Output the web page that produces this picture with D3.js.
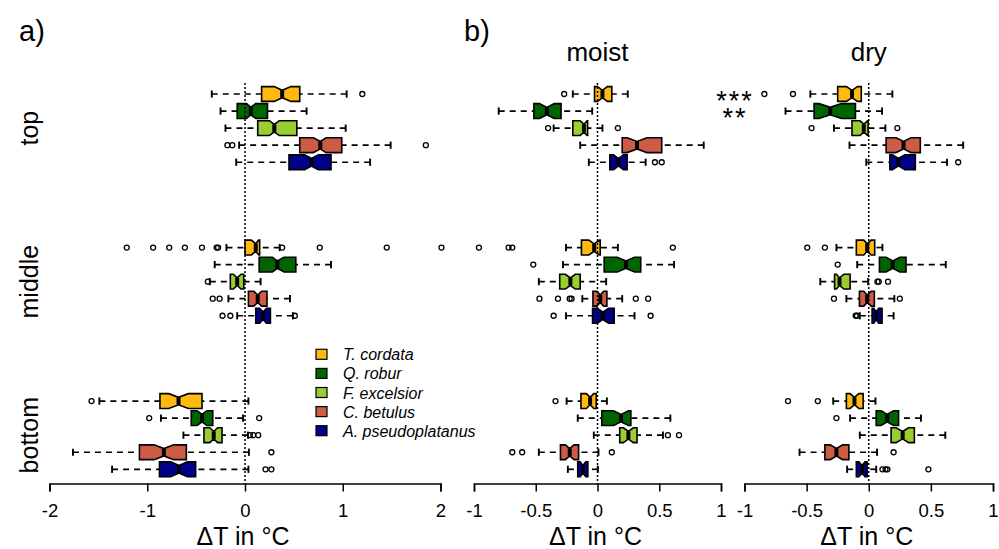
<!DOCTYPE html>
<html><head><meta charset="utf-8">
<script src="https://cdn.jsdelivr.net/npm/d3@7"></script>
<style>body{margin:0;background:#fff} svg text{font-family:"Liberation Sans",Arial,sans-serif;fill:#000}</style>
</head><body><svg id="c" width="999" height="549"></svg>
<script>
// ---- data ----
const species = ["T. cordata","Q. robur","F. excelsior","C. betulus","A. pseudoplatanus"];
const colors = ["#FFB90F","#006400","#9ACD32","#CD5B45","#00008B"];
const heights = ["top","middle","bottom"];
const positions = [1,2,3,4,5,10,11,12,13,14,19,20,21,22,23];
const ticksA = [-2,-1,0,1,2];
const ticksB = [-1,-0.5,0,0.5,1];
const stars = ["***","**"];

// stats per box: [whiskerLow, Q1, median, Q3, whiskerHigh]; order top(5), middle(5), bottom(5)
const statsA = [
  [-0.34,0.17,0.38,0.56,1.04],[-0.25,-0.08,0.06,0.23,0.63],[-0.20,0.13,0.30,0.53,1.03],[-0.06,0.56,0.77,0.99,1.49],[-0.09,0.45,0.68,0.88,1.28],
  [-0.19,0.0,0.11,0.15,0.355],[-0.31,0.145,0.33,0.52,0.88],[-0.36,-0.15,-0.08,-0.013,0.16],[-0.17,0.035,0.13,0.225,0.46],[-0.08,0.11,0.185,0.26,0.49],
  [-1.49,-0.87,-0.68,-0.44,0.035],[-0.86,-0.55,-0.44,-0.33,-0.02],[-0.63,-0.42,-0.32,-0.235,0.03],[-1.76,-1.08,-0.83,-0.60,0.04],[-1.36,-0.875,-0.675,-0.505,0.035]
];
const notchA = [
  [0.30,0.47],[0.015,0.11],[0.25,0.35],[0.70,0.83],[0.61,0.75],
  [0.065,0.14],[0.28,0.40],[-0.12,-0.04],[0.09,0.17],[0.15,0.22],
  [-0.78,-0.58],[-0.49,-0.39],[-0.36,-0.28],[-0.93,-0.73],[-0.76,-0.59]
];
const outA = [
  [1.20],[],[],[-0.18,-0.13,1.85],[],
  [-1.21,-0.94,-0.775,-0.615,-0.44,-0.29,-0.275,0.38,0.765,1.45,2.01],[],[-0.38],[-0.33,-0.26],[-0.23,-0.15,0.51],
  [-1.57],[-0.98,0.145],[0.05,0.085,0.135],[0.27],[0.21,0.27]
];

const statsMoist = [
  [-0.20,-0.024,0.04,0.116,0.245],[-0.80,-0.515,-0.41,-0.295,-0.043],[-0.355,-0.20,-0.11,-0.08,0.04],[-0.14,0.20,0.32,0.52,0.86],[-0.07,0.10,0.17,0.24,0.39],
  [-0.255,-0.13,-0.027,0.022,0.165],[-0.28,0.054,0.23,0.35,0.62],[-0.475,-0.306,-0.22,-0.14,0.07],[-0.123,-0.037,0.022,0.076,0.20],[-0.255,-0.04,0.043,0.135,0.30],
  [-0.25,-0.134,-0.06,-0.01,0.076],[-0.16,0.035,0.19,0.27,0.59],[-0.03,0.18,0.25,0.32,0.53],[-0.475,-0.30,-0.225,-0.153,0.008],[-0.24,-0.16,-0.118,-0.078,0.003]
];
const notchMoist = [
  [0.0,0.08],[-0.47,-0.35],[-0.14,-0.085],[0.24,0.40],[0.13,0.21],
  [-0.07,0.015],[0.16,0.30],[-0.26,-0.18],[-0.005,0.05],[0.0,0.09],
  [-0.09,-0.03],[0.13,0.25],[0.21,0.29],[-0.26,-0.19],[-0.14,-0.095]
];
const outMoist = [
  [-0.27],[],[-0.40,0.165],[],[0.465,0.52],
  [-0.96,-0.72,-0.69,0.61],[-0.52],[],[-0.47,-0.32,-0.225,-0.21,0.31,0.41],[-0.355,0.43],
  [-0.34],[],[0.57,0.66],[-0.69,-0.61,0.116],[]
];

const statsDry = [
  [-0.47,-0.25,-0.135,-0.06,0.19],[-0.67,-0.44,-0.31,-0.107,0.107],[-0.28,-0.135,-0.04,-0.005,0.134],[-0.155,0.14,0.28,0.415,0.76],[-0.02,0.17,0.24,0.375,0.63],
  [-0.26,-0.10,-0.013,0.048,0.11],[-0.093,0.086,0.193,0.30,0.62],[-0.39,-0.275,-0.235,-0.15,-0.005],[-0.18,-0.075,-0.013,0.045,0.206],[-0.072,0.027,0.06,0.107,0.20],
  [-0.286,-0.18,-0.115,-0.045,0.054],[-0.15,0.06,0.148,0.24,0.42],[-0.072,0.18,0.273,0.367,0.616],[-0.557,-0.353,-0.26,-0.16,0.067],[-0.174,-0.10,-0.053,-0.013,0.06]
];
const notchDry = [
  [-0.18,-0.09],[-0.40,-0.22],[-0.07,-0.01],[0.22,0.34],[0.19,0.29],
  [-0.04,0.02],[0.14,0.25],[-0.26,-0.20],[-0.04,0.02],[0.04,0.08],
  [-0.15,-0.08],[0.10,0.20],[0.22,0.32],[-0.31,-0.21],[-0.08,-0.03]
];
const outDry = [
  [-0.84,-0.61],[],[-0.46,0.23],[],[0.72],
  [-0.495,-0.353],[-0.25],[0.07,0.08,0.155],[-0.28,0.25],[-0.105,-0.095],
  [-0.65,-0.41],[-0.26],[],[0.20],[0.11,0.135,0.15,0.48]
];

// ---- drawing ----
const svg = d3.select("#c");
const y = d3.scaleLinear().domain([1,23]).range([94,469.3]);
const axisY = 483.5, plotTop = 83;
const halfH = 7.4, notchFrac = 0.5, stapleH = 3.6;

function panel(stats, notch, outs, domain, range, ticks, title) {
  const x = d3.scaleLinear().domain(domain).range(range);
  const g = svg.append("g");
  stats.forEach((s, i) => {
    const cy = y(positions[i]);
    const col = colors[i % 5];
    const bg = g.append("g");
    [[s[0], s[1]], [s[4], s[3]]].forEach(([a, b]) => {
      bg.append("line").attr("x1", x(a)).attr("x2", x(b)).attr("y1", cy).attr("y2", cy)
        .attr("stroke", "#000").attr("stroke-width", 1.7).attr("stroke-dasharray", "6,5");
      bg.append("line").attr("x1", x(a)).attr("x2", x(a)).attr("y1", cy - stapleH).attr("y2", cy + stapleH)
        .attr("stroke", "#000").attr("stroke-width", 1.9);
    });
    const [nlo, nhi] = notch[i];
    const pts = [
      [x(s[1]), cy - halfH], [x(nlo), cy - halfH], [x(s[2]), cy - halfH * notchFrac], [x(nhi), cy - halfH], [x(s[3]), cy - halfH],
      [x(s[3]), cy + halfH], [x(nhi), cy + halfH], [x(s[2]), cy + halfH * notchFrac], [x(nlo), cy + halfH], [x(s[1]), cy + halfH]
    ];
    bg.append("polygon").attr("points", pts.map(p => p.join(",")).join(" "))
      .attr("fill", col).attr("stroke", "#000").attr("stroke-width", 1.6).attr("stroke-linejoin", "miter");
    bg.append("line").attr("x1", x(s[2])).attr("x2", x(s[2]))
      .attr("y1", cy - halfH * notchFrac).attr("y2", cy + halfH * notchFrac)
      .attr("stroke", "#000").attr("stroke-width", 4);
    outs[i].forEach(v => {
      bg.append("circle").attr("cx", x(v)).attr("cy", cy).attr("r", 2.5)
        .attr("fill", "none").attr("stroke", "#000").attr("stroke-width", 1.3);
    });
  });
  g.append("line").attr("x1", x(0)).attr("x2", x(0)).attr("y1", plotTop).attr("y2", axisY)
    .attr("stroke", "#000").attr("stroke-width", 1.5).attr("stroke-dasharray", "2,2");
  const ax = g.append("g").attr("transform", `translate(0,${axisY})`)
    .call(d3.axisBottom(x).tickValues(ticks).tickSize(8).tickSizeOuter(8).tickPadding(12.4).tickFormat(d => String(d)));
  ax.select(".domain").attr("stroke", "#000").attr("stroke-width", 1.5);
  ax.selectAll(".tick line").attr("stroke", "#000").attr("stroke-width", 1.5);
  ax.selectAll(".tick text").attr("font-size", 18.5).attr("font-family", "Liberation Sans, Arial, sans-serif").attr("fill", "#000");
  g.append("text").attr("x", x(0) - 2).attr("y", 545).attr("text-anchor", "middle").attr("font-size", 25).text("\u0394T in \u00B0C");
  if (title) g.append("text").attr("x", x(0)).attr("y", 61).attr("text-anchor", "middle").attr("font-size", 26).text(title);
  return x;
}

panel(statsA, notchA, outA, [-2, 2], [49.5, 440.5], ticksA, null);
panel(statsMoist, notchMoist, outMoist, [-1, 1], [474, 721], ticksB, "moist");
panel(statsDry, notchDry, outDry, [-1, 1], [744.5, 993], ticksB, "dry");

svg.append("text").attr("x", 19).attr("y", 41).attr("font-size", 29).text("a)");
svg.append("text").attr("x", 464).attr("y", 41).attr("font-size", 29).text("b)");

heights.forEach((h, k) => {
  const cy = y(positions[k * 5 + 2]);
  svg.append("text").attr("transform", `translate(38,${cy}) rotate(-90)`)
    .attr("text-anchor", "middle").attr("font-size", 25).text(h);
});

// significance stars (one text element, two lines)
const st = svg.append("text").attr("text-anchor", "middle").attr("font-size", 27).attr("letter-spacing", 2);
stars.forEach((s, i) => {
  st.append("tspan").attr("x", 735).attr("y", 110 + i * 17).text(s);
});

// legend
const lg = svg.append("g");
species.forEach((sp, i) => {
  const cy = 354.3 + i * 19.1;
  lg.append("rect").attr("x", 316).attr("y", cy - 5).attr("width", 11).attr("height", 10)
    .attr("fill", colors[i]).attr("stroke", "#000").attr("stroke-width", 1.2);
  lg.append("text").attr("x", 343).attr("y", cy + 6).attr("font-size", 16).attr("font-style", "italic").text(sp);
});
</script></body></html>
